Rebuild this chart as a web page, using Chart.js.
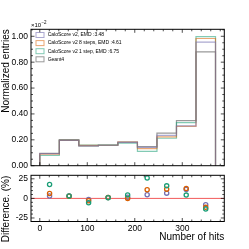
<!DOCTYPE html>
<html>
<head>
<meta charset="utf-8">
<script src="https://cdn.jsdelivr.net/npm/chart.js@4.4.1/dist/chart.umd.min.js"></script>
<style>
    html, body { margin: 0; padding: 0; background: #fff; }
    #wrap { position: relative; width: 249px; height: 249px; }
    #main { position: absolute; left: 0; top: 0; }
    #ratio { position: absolute; left: 0; top: 170px; }
</style>
</head>
<body>
<div id="wrap">
    <canvas id="main" width="249" height="170"></canvas>
    <canvas id="ratio" width="249" height="79"></canvas>
</div>
<script>

/*
 Data (normalized entries are in units of 1e-2)
 */
const binEdges = [0, 41.1, 82.2, 123.3, 164.4, 205.6, 246.7, 287.8, 328.9, 370];
const binCenters = [20.6, 61.7, 102.8, 143.9, 185, 226.1, 267.2, 308.3, 349.4];

const geant4  = [0.096, 0.201, 0.152, 0.160, 0.183, 0.148, 0.252, 0.348, 0.880];
const caloV2  = [0.093, 0.196, 0.154, 0.158, 0.180, 0.141, 0.235, 0.308, 0.955];
const calo8   = [0.090, 0.195, 0.157, 0.158, 0.183, 0.132, 0.222, 0.304, 0.983];
const calo1   = [0.079, 0.195, 0.160, 0.159, 0.175, 0.110, 0.212, 0.333, 0.997];

const diffV2 = [3.0, 3.0, -1.3, 1.0, 1.5, 4.6, 6.7, 11.4, -8.0];
const diff8  = [6.3, 2.8, -3.0, 1.0, 0.0, 11.0, 11.8, 12.7, -11.4];
const diff1  = [17.7, 3.2, -5.5, 0.8, 4.5, 26.0, 16.0, 4.2, -13.5];

const legendLabels = [
    'CaloScore v2, EMD :3.48',
    'CaloScore v2 8 steps, EMD :4.61',
    'CaloScore v2 1 step, EMD :6.75',
    'Geant4'
];

const xTicks = [0, 100, 200, 300];
const yTicksMain = [0, 0.2, 0.4, 0.6, 0.8, 1.0];
const yTicksRatio = [-25, 0, 25];

const FONT = "'Liberation Sans', Arial, sans-serif";

// step outline like matplotlib histtype='step'
function stepPoints(vals) {
    let last = binEdges.length - 1;
    let pts = [{x: binEdges[0], y: 0}];
    vals.forEach((v, i) => pts.push({x: binEdges[i], y: v}));
    pts.push({x: binEdges[last], y: vals[vals.length - 1]});
    pts.push({x: binEdges[last], y: 0});
    return pts;
}

function points(vals) {
    return vals.map((v, i) => ({x: binCenters[i], y: v}));
}

// frame + inward ticks on all four sides
const axisFrame = {
    id: 'axisFrame',
    beforeDatasetsDraw(chart, args, o) {
        if (!o.zeroLine) return;
        const {ctx, chartArea: a} = chart;
        const y0 = chart.scales.y.getPixelForValue(0);
        ctx.save();
        ctx.strokeStyle = '#f25a5a';
        ctx.lineWidth = 1;
        ctx.beginPath();
        ctx.moveTo(a.left, y0);
        ctx.lineTo(a.right, y0);
        ctx.stroke();
        ctx.restore();
    },
    afterDatasetsDraw(chart, args, o) {
        const {ctx, chartArea: a} = chart;
        const xs = chart.scales.x, ys = chart.scales.y;
        ctx.save();
        ctx.strokeStyle = '#000';
        ctx.lineWidth = 0.7;
        ctx.beginPath();

        function each(scale, major, minorStep, fn) {
            major.forEach(v => fn(scale.getPixelForValue(v), 3.5));
            let start = Math.ceil(scale.min / minorStep);
            for (let k = start; k * minorStep <= scale.max; k++) {
                let v = k * minorStep;
                if (major.some(m => Math.abs(m - v) < minorStep / 10)) continue;
                fn(scale.getPixelForValue(v), 2);
            }
        }
        each(xs, o.xMajor, o.xMinor, (p, len) => {
            ctx.moveTo(p, a.bottom); ctx.lineTo(p, a.bottom - len);
            ctx.moveTo(p, a.top); ctx.lineTo(p, a.top + len);
        });
        each(ys, o.yMajor, o.yMinor, (p, len) => {
            ctx.moveTo(a.left, p); ctx.lineTo(a.left + len, p);
            ctx.moveTo(a.right, p); ctx.lineTo(a.right - len, p);
        });
        ctx.stroke();

        ctx.lineWidth = 1;
        ctx.strokeRect(a.left, a.top, a.right - a.left, a.bottom - a.top);
        ctx.restore();
    }
};

// legend inside the plot + the x10^-2 offset text
const mainExtras = {
    id: 'mainExtras',
    afterDraw(chart) {
        const ctx = chart.ctx;
        const a = chart.chartArea;
        ctx.save();
        chart.data.datasets.forEach((ds, i) => {
            let y = 35 + i * 8.1;
            ctx.fillStyle = '#fff';
            ctx.strokeStyle = ds.borderColor;
            ctx.lineWidth = 1;
            ctx.fillRect(36, y - 2.5, 8, 5);
            ctx.strokeRect(36, y - 2.5, 8, 5);
            ctx.fillStyle = '#000';
            ctx.font = '5px ' + FONT;
            ctx.textBaseline = 'middle';
            ctx.textAlign = 'left';
            ctx.fillText(ds.label, 47.7, y);
        });

        ctx.fillStyle = '#000';
        ctx.textBaseline = 'middle';
        ctx.font = '6px ' + FONT;
        ctx.fillText('\u00d710', a.left, 25.5);
        let w = ctx.measureText('\u00d710').width;
        ctx.font = '4.5px ' + FONT;
        ctx.fillText('\u22122', a.left + w + 0.3, 23);
        ctx.restore();
    }
};

const ratioExtras = {
    id: 'ratioExtras',
    afterDraw(chart) {
        const ctx = chart.ctx;
        ctx.save();
        ctx.translate(6.5, 39);
        ctx.rotate(-Math.PI / 2);
        ctx.fillStyle = '#000';
        ctx.font = '10px ' + FONT;
        ctx.textAlign = 'center';
        ctx.textBaseline = 'middle';
        ctx.fillText('Difference. (%)', 0, 0);
        ctx.restore();
    }
};

function histSet(label, vals, color) {
    return {
        label: label,
        data: stepPoints(vals),
        stepped: 'before',
        borderColor: color,
        borderWidth: 1.2,
        pointRadius: 0,
        fill: false
    };
}

function dotSet(label, vals, color, order) {
    return {
        label: label,
        data: points(vals),
        showLine: false,
        borderColor: color,
        backgroundColor: 'rgba(0,0,0,0)',
        borderWidth: 1.3,
        pointRadius: 2.1,
        order: order
    };
}

function fixWidth(w) {
    return function (scale) {
        scale.width = w;
        scale.paddingTop = 0;
        scale.paddingBottom = 0;
    };
}

document.addEventListener('DOMContentLoaded', () => {

    new Chart(document.getElementById('main'), {
        type: 'line',
        data: {
            datasets: [
                histSet(legendLabels[0], caloV2, 'rgba(117,112,179,0.6)'),
                histSet(legendLabels[1], calo8, 'rgba(217,95,2,0.55)'),
                histSet(legendLabels[2], calo1, 'rgba(27,158,119,0.55)'),
                histSet(legendLabels[3], geant4, 'rgba(70,70,70,0.55)')
            ]
        },
        options: {
            responsive: false,
            animation: false,
            layout: {padding: {left: 0, right: 24.7, top: 29.3, bottom: 4.3}},
            plugins: {
                legend: {display: false},
                tooltip: {enabled: false},
                axisFrame: {xMajor: xTicks, xMinor: 20, yMajor: yTicksMain, yMinor: 0.05}
            },
            scales: {
                x: {
                    type: 'linear',
                    min: -18.5,
                    max: 388.5,
                    display: false
                },
                y: {
                    min: 0,
                    max: 1.054,
                    grid: {display: false, drawTicks: false},
                    border: {display: false},
                    afterFit: fixWidth(31),
                    afterBuildTicks: (scale) => {
                        scale.ticks = yTicksMain.map(v => ({value: v}));
                    },
                    ticks: {
                        padding: 3,
                        color: '#000',
                        font: {family: FONT, size: 8.5, lineHeight: 1},
                        callback: (v) => v.toFixed(2)
                    },
                    title: {
                        display: true,
                        text: 'Normalized entries',
                        align: 'end',
                        color: '#000',
                        padding: {top: 0.5, bottom: 0},
                        font: {family: FONT, size: 10}
                    }
                }
            }
        },
        plugins: [axisFrame, mainExtras]
    });

    new Chart(document.getElementById('ratio'), {
        type: 'scatter',
        data: {
            datasets: [
                dotSet(legendLabels[0], diffV2, '#7570b3', 3),
                dotSet(legendLabels[1], diff8, '#d95f02', 2),
                dotSet(legendLabels[2], diff1, '#1b9e77', 1)
            ]
        },
        options: {
            responsive: false,
            animation: false,
            layout: {padding: {left: 0, right: 24.7, top: 5, bottom: 5.7}},
            plugins: {
                legend: {display: false},
                tooltip: {enabled: false},
                axisFrame: {xMajor: xTicks, xMinor: 20, yMajor: yTicksRatio, yMinor: 5, zeroLine: true}
            },
            scales: {
                x: {
                    type: 'linear',
                    min: -18.5,
                    max: 388.5,
                    grid: {display: false, drawTicks: false},
                    border: {display: false},
                    afterFit: (scale) => {
                        scale.height = 21.8;
                        scale.paddingLeft = 0;
                        scale.paddingRight = 0;
                    },
                    afterBuildTicks: (scale) => {
                        scale.ticks = xTicks.map(v => ({value: v}));
                    },
                    ticks: {
                        padding: 2,
                        maxRotation: 0,
                        color: '#000',
                        font: {family: FONT, size: 8.5}
                    },
                    title: {
                        display: true,
                        text: 'Number of hits',
                        align: 'end',
                        color: '#000',
                        padding: {top: 0, bottom: 0},
                        font: {family: FONT, size: 10}
                    }
                },
                y: {
                    min: -29.5,
                    max: 29.5,
                    grid: {display: false, drawTicks: false},
                    border: {display: false},
                    afterFit: fixWidth(31),
                    afterBuildTicks: (scale) => {
                        scale.ticks = yTicksRatio.map(v => ({value: v}));
                    },
                    ticks: {
                        padding: 3,
                        color: '#000',
                        font: {family: FONT, size: 8.5, lineHeight: 1}
                    }
                }
            }
        },
        plugins: [axisFrame, ratioExtras]
    });
});
</script>
</body>
</html>
